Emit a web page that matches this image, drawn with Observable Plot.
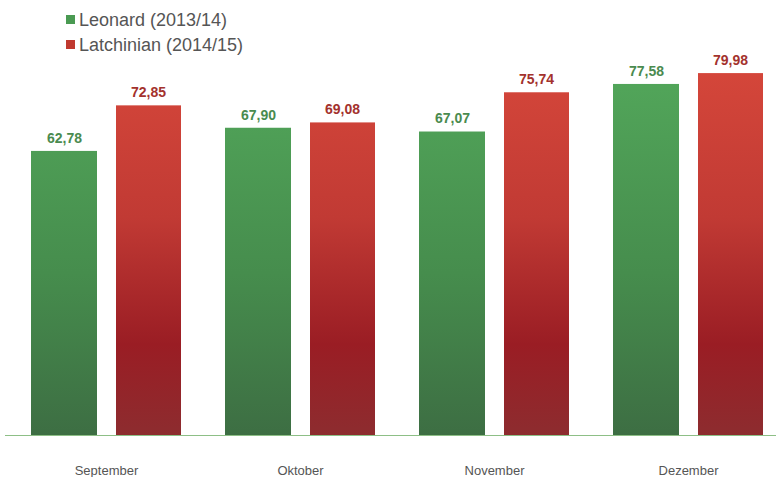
<!DOCTYPE html>
<html>
<head>
<meta charset="utf-8">
<script src="https://cdn.jsdelivr.net/npm/d3@7"></script>
<script src="https://cdn.jsdelivr.net/npm/@observablehq/plot@0.6"></script>
<style>
  html, body { margin: 0; padding: 0; background: #fff; }
  #wrap { position: relative; width: 776px; height: 477px; font-family: "Liberation Sans", Arial, sans-serif; }
  #legend { position: absolute; left: 66px; top: 8px; font-size: 18px; color: #555; line-height: 25px; }
  #legend .sw { display: inline-block; width: 9px; height: 9px; margin-right: 4px; vertical-align: 2px; }
</style>
</head>
<body>
<div id="wrap">
  <div id="chart"></div>
  <div id="legend"></div>
</div>
<script>
const months = ["September", "Oktober", "November", "Dezember"];
const seriesNames = ["Leonard (2013/14)", "Latchinian (2014/15)"];
const leonard = [62.78, 67.90, 67.07, 77.58];
const latchinian = [72.85, 69.08, 75.74, 79.98];

const dataL = months.map((m, i) => ({month: m, value: leonard[i]}));
const dataR = months.map((m, i) => ({month: m, value: latchinian[i]}));
const fmt = v => v.toFixed(2).replace(".", ",");

const chart = Plot.plot({
  width: 776,
  height: 477,
  marginTop: 73,
  marginBottom: 42,
  marginLeft: 5,
  marginRight: 0,
  style: {fontFamily: "Liberation Sans, Arial, sans-serif", background: "transparent"},
  x: {domain: months, range: [9, 785], padding: 0, axis: null, label: null},
  y: {domain: [0, 80], axis: null},
  marks: [
    Plot.barY(dataL, {x: "month", y: "value", fill: "url(#gGreen)", insetLeft: 22, insetRight: 106}),
    Plot.barY(dataR, {x: "month", y: "value", fill: "url(#gRed)", insetLeft: 107, insetRight: 22}),
    Plot.ruleY([0], {stroke: "#8dbf86", strokeWidth: 1.2}),
    Plot.text(dataL, {x: "month", y: "value", text: d => fmt(d.value), dx: -42, dy: -13, fill: "#4a8b4f", fontSize: 14, fontWeight: 600}),
    Plot.text(dataR, {x: "month", y: "value", text: d => fmt(d.value), dx: 42, dy: -13, fill: "#a3322d", fontSize: 14, fontWeight: 600}),
    Plot.axisX({domain: months, label: null, tickSize: 0, tickPadding: 30, fontSize: 13, fontFamily: "Liberation Sans Narrow, Liberation Sans, Arial, sans-serif", fill: "#555", stroke: null})
  ]
});

chart.insertAdjacentHTML("afterbegin", `
<defs>
  <linearGradient id="gGreen" gradientUnits="userSpaceOnUse" x1="0" y1="73" x2="0" y2="435">
    <stop offset="0" stop-color="#52a65a"/>
    <stop offset="0.55" stop-color="#468d4d"/>
    <stop offset="1" stop-color="#3d6e43"/>
  </linearGradient>
  <linearGradient id="gRed" gradientUnits="userSpaceOnUse" x1="0" y1="73" x2="0" y2="435">
    <stop offset="0" stop-color="#d4463a"/>
    <stop offset="0.4" stop-color="#c13a34"/>
    <stop offset="0.75" stop-color="#9a1d24"/>
    <stop offset="1" stop-color="#8d2c2f"/>
  </linearGradient>
</defs>`);

document.getElementById("chart").appendChild(chart);

const legendColors = ["#4a9a52", "#c0392f"];
document.getElementById("legend").innerHTML = seriesNames.map((n, i) =>
  `<div><span class="sw" style="background:${legendColors[i]}"></span>${n}</div>`).join("");
</script>
</body>
</html>
